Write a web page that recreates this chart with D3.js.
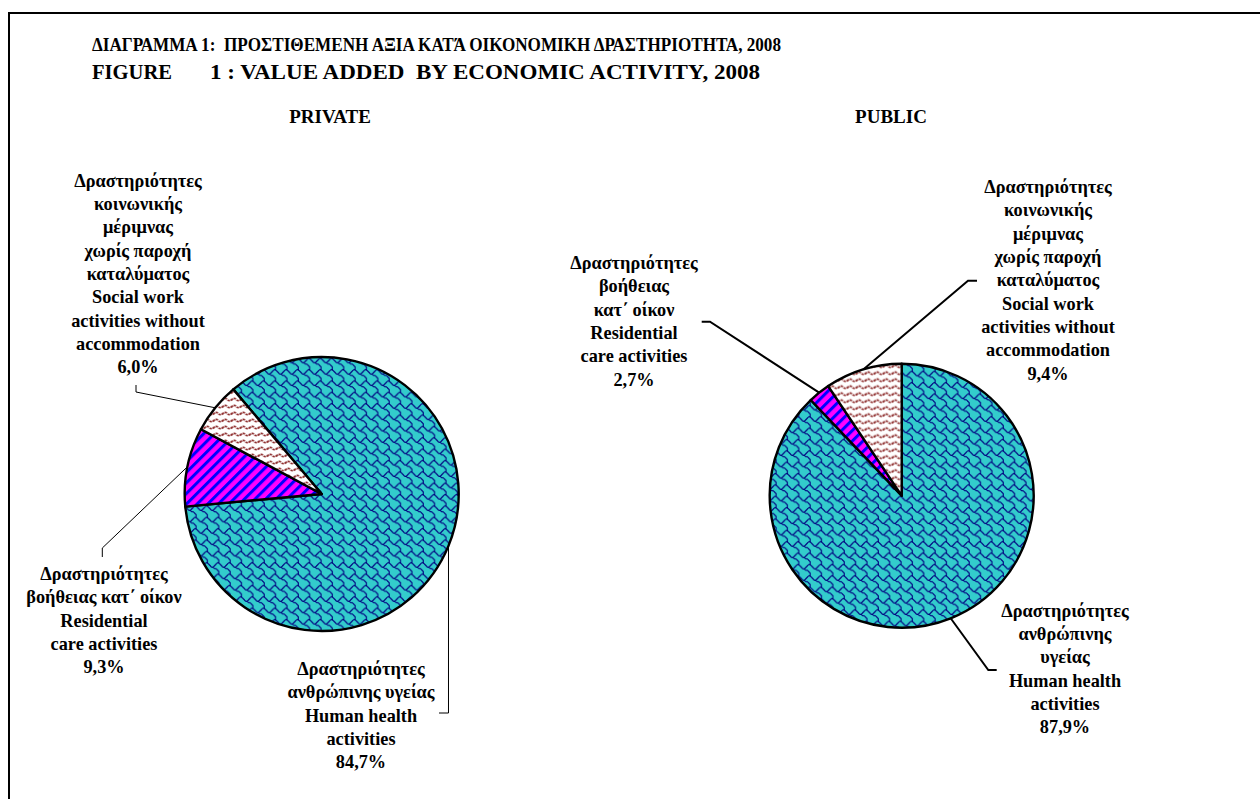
<!DOCTYPE html>
<html>
<head>
<meta charset="utf-8">
<script src="https://cdn.jsdelivr.net/npm/d3@7/dist/d3.min.js"></script>
<style>
  html, body { margin: 0; padding: 0; background: #fff; }
  svg { display: block; }
  text { font-family: "Liberation Serif", "Times New Roman", serif; font-weight: bold; fill: #000; }
</style>
</head>
<body>
<svg id="chart" width="1260" height="799"></svg>
<script>
// ---------------- DATA ----------------
const titleLines = [
  "ΔΙΑΓΡΑΜΜΑ 1:  ΠΡΟΣΤΙΘΕΜΕΝΗ ΑΞΙΑ ΚΑΤΆ ΟΙΚΟΝΟΜΙΚΗ ΔΡΑΣΤΗΡΙΟΤΗΤΑ, 2008",
  "FIGURE",
  "1 : VALUE ADDED  BY ECONOMIC ACTIVITY, 2008"
];
const pieNames = ["PRIVATE", "PUBLIC"];
const categories = ["human", "residential", "social"];
const privateValues = [84.7, 9.3, 6.0];
const publicValues = [87.9, 2.7, 9.4];
const privateLabels = [
  ["Δραστηριότητες", "ανθρώπινης υγείας", "Human health", "activities"],
  ["Δραστηριότητες", "βοήθειας κατ΄ οίκον", "Residential", "care activities"],
  ["Δραστηριότητες", "κοινωνικής", "μέριμνας", "χωρίς παροχή", "καταλύματος", "Social work", "activities without", "accommodation"]
];
const publicLabels = [
  ["Δραστηριότητες", "ανθρώπινης", "υγείας", "Human health", "activities"],
  ["Δραστηριότητες", "βοήθειας", "κατ΄ οίκον", "Residential", "care activities"],
  ["Δραστηριότητες", "κοινωνικής", "μέριμνας", "χωρίς παροχή", "καταλύματος", "Social work", "activities without", "accommodation"]
];

// ---------------- LAYOUT ----------------
const W = 1260, H = 799;
const lineH = 23.35;
const pieLayouts = [
  { cx: 321.7, cy: 494, r: 137, start: -40.2, titleX: 330, leaderW: 1,
    labels: [
      { x: 361, y: 675, anchor: [439, 713], elbow: "hv" },
      { x: 104, y: 580, anchor: [102.3, 557], elbow: [102.3, 548] },
      { x: 138, y: 186.5, anchor: [136, 385], elbow: [136, 392] }
    ] },
  { cx: 901.7, cy: 495.7, r: 132, start: 0, titleX: 891, leaderW: 2,
    labels: [
      { x: 1065, y: 616.7, anchor: [996.7, 670], elbow: [988.3, 670] },
      { x: 634, y: 269, anchor: [701.7, 321.7], elbow: [710, 321.7] },
      { x: 1048, y: 193, anchor: [977, 280.7], elbow: [968, 280.7] }
    ] }
];

const svg = d3.select("#chart");
const defs = svg.append("defs");

// Human health: turquoise with navy "shingle" texture (8x8 cell, scaled)
const pH = defs.append("pattern").attr("id", "pat-human")
  .attr("patternUnits", "userSpaceOnUse").attr("width", 8).attr("height", 8)
  .attr("patternTransform", "scale(1.42)");
pH.append("rect").attr("x", -1).attr("y", -1).attr("width", 10).attr("height", 10).attr("fill", "#33CCCC");
const shingle = [
  [[7.5,0.5],[6.5,0.5],[5.5,1.5],[4.5,2.5],[3.5,3.5],[2.5,3.5],[1.5,2.5],[0.5,1.5],[-0.5,0.5]],
  [[3.5,3.5],[4.5,4.5],[5.5,4.5],[6.5,5.5],[7.5,6.5],[7.5,7.5],[7.5,8.5]]
];
const shLine = d3.line().curve(d3.curveCatmullRom.alpha(0.5));
[-8, 0, 8].forEach(ox => [-8, 0, 8].forEach(oy => {
  shingle.forEach(seg => {
    pH.append("path").attr("d", shLine(seg.map(p => [p[0] + ox, p[1] + oy])))
      .attr("fill", "none").attr("stroke", "#000080").attr("stroke-width", 0.8)
      .attr("stroke-linecap", "round").attr("stroke-linejoin", "round");
  });
}));

// Residential: magenta with blue diagonal stripes
const pR = defs.append("pattern").attr("id", "pat-res")
  .attr("patternUnits", "userSpaceOnUse").attr("width", 7.5).attr("height", 7.5)
  .attr("patternTransform", "rotate(45)");
pR.append("rect").attr("width", 7.5).attr("height", 7.5).attr("fill", "#FF00FF");
pR.append("rect").attr("width", 3.0).attr("height", 7.5).attr("fill", "#0000FF");

// Social work: white with dark red dotted waves
const pS = defs.append("pattern").attr("id", "pat-soc")
  .attr("patternUnits", "userSpaceOnUse").attr("width", 9).attr("height", 7);
pS.append("rect").attr("width", 9).attr("height", 7).attr("fill", "#FFFFFF");
pS.append("path").attr("d", "M-0.5,4.5 Q2.25,0.8 4.5,3.5 T9.5,3.0")
  .attr("fill", "none").attr("stroke", "#8E2E2E").attr("stroke-width", 1.7)
  .attr("stroke-dasharray", "2.4 0.8");

const fills = d3.scaleOrdinal().domain(categories)
  .range(["url(#pat-human)", "url(#pat-res)", "url(#pat-soc)"]);

// Frame
svg.append("rect").attr("x", 9).attr("y", 13).attr("width", W + 50).attr("height", H + 50)
  .attr("fill", "none").attr("stroke", "#000").attr("stroke-width", 2);

// Title
svg.append("text").attr("x", 92).attr("y", 51).attr("font-size", 19.5)
  .attr("textLength", 689).attr("lengthAdjust", "spacingAndGlyphs")
  .style("white-space", "pre").text(titleLines[0]);
svg.append("text").attr("x", 92).attr("y", 79).attr("font-size", 20)
  .attr("textLength", 80).attr("lengthAdjust", "spacingAndGlyphs")
  .text(titleLines[1]);
svg.append("text").attr("x", 210).attr("y", 79).attr("font-size", 20)
  .attr("textLength", 550).attr("lengthAdjust", "spacingAndGlyphs")
  .style("white-space", "pre").text(titleLines[2]);

const fmt = v => d3.format(".1f")(v).replace(".", ",") + "%";
const allValues = [privateValues, publicValues];
const allLabels = [privateLabels, publicLabels];

pieLayouts.forEach((L, pi) => {
  const values = allValues[pi];
  const data = categories.map((c, i) => ({ cat: c, value: values[i], lines: allLabels[pi][i] }));
  const start = L.start * Math.PI / 180;
  const pie = d3.pie().value(d => d.value).sort(null)
    .startAngle(start).endAngle(start + 2 * Math.PI);
  const arcs = pie(data);
  const arc = d3.arc().innerRadius(0).outerRadius(L.r);

  const g = svg.append("g").attr("transform", `translate(${L.cx},${L.cy})`);
  g.selectAll("path.slice").data(arcs).join("path")
    .attr("class", "slice")
    .attr("d", arc)
    .attr("fill", d => fills(d.data.cat))
    .attr("stroke", "#000").attr("stroke-width", 2.4).attr("stroke-linejoin", "round");

  // Pie name
  svg.append("text").attr("x", L.titleX).attr("y", 123).attr("font-size", 19)
    .attr("text-anchor", "middle").text(pieNames[pi]);

  // Labels and leader lines
  arcs.forEach((a, i) => {
    const lab = L.labels[i];
    const mid = (a.startAngle + a.endAngle) / 2;
    const ex = L.cx + L.r * Math.sin(mid), ey = L.cy - L.r * Math.cos(mid);
    let pts;
    if (lab.elbow === "hv") pts = [lab.anchor, [ex, lab.anchor[1]], [ex, ey]];
    else pts = [lab.anchor, lab.elbow, [ex, ey]];
    svg.append("path").attr("d", d3.line()(pts))
      .attr("fill", "none").attr("stroke", "#000").attr("stroke-width", L.leaderW);

    const lines = a.data.lines.concat([fmt(a.data.value)]);
    const t = svg.append("text").attr("text-anchor", "middle").attr("font-size", 18.3);
    lines.forEach((ln, k) => {
      t.append("tspan").attr("x", lab.x).attr("y", lab.y + k * lineH).text(ln);
    });
  });
});
</script>
</body>
</html>
